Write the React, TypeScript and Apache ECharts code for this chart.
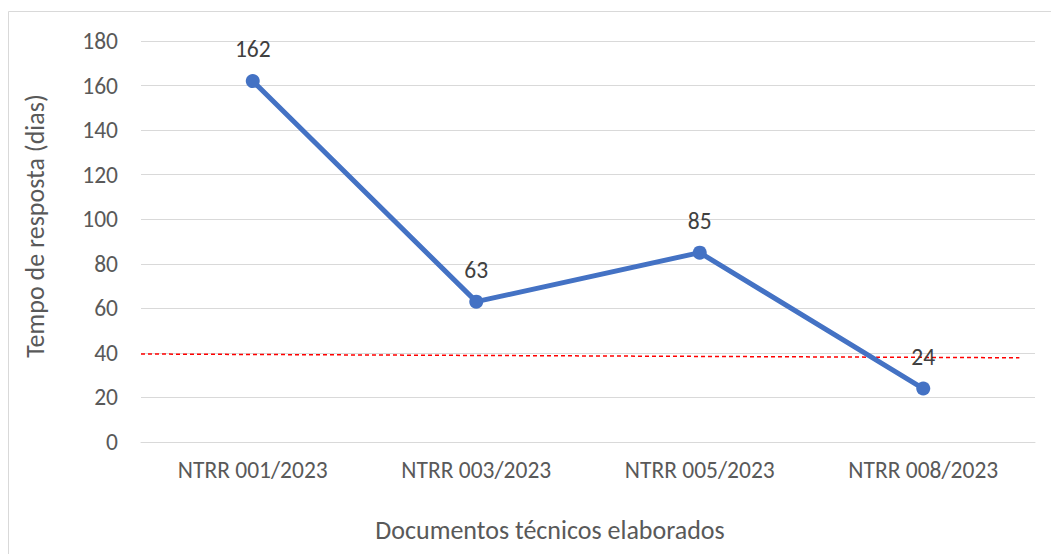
import React, { useEffect, useRef } from "react";
import * as echarts from "echarts";

const categories = ["NTRR 001/2023", "NTRR 003/2023", "NTRR 005/2023", "NTRR 008/2023"];
const values = [162, 63, 85, 24];
const refLine = [
  [0, 39.5],
  [3.93, 37.8],
];
const yTicks = { min: 0, max: 180, interval: 20 };
const xTitle = "Documentos técnicos elaborados";
const yTitle = "Tempo de resposta (dias)";

export default function App() {
  const ref = useRef<HTMLDivElement>(null);
  useEffect(() => {
    const chart = echarts.init(ref.current!, null, { renderer: "svg" });
    const font = "Carlito, 'Open Sans', 'Noto Sans', sans-serif";
    chart.setOption({
      animation: false,
      textStyle: { fontFamily: font },
      grid: { left: 141, right: 16, top: 41, bottom: 112 },
      graphic: [
        {
          type: "rect",
          shape: { x: 8.5, y: 11.5, width: 1100, height: 600 },
          style: { fill: "none", stroke: "#d9d9d9", lineWidth: 1 },
          silent: true,
          z: -1,
        },
        {
          type: "text",
          x: 550,
          y: 530,
          style: {
            text: xTitle,
            fill: "#595959",
            font: `26px ${font}`,
            align: "center",
            verticalAlign: "middle",
          },
          silent: true,
        },
        {
          type: "text",
          x: 35,
          y: 226,
          rotation: Math.PI / 2,
          style: {
            text: yTitle,
            fill: "#595959",
            font: `26px ${font}`,
            align: "center",
            verticalAlign: "middle",
          },
          silent: true,
        },
      ],
      xAxis: [
        {
          type: "category",
          data: categories,
          boundaryGap: true,
          axisLine: { show: true, lineStyle: { color: "#d9d9d9", width: 1 } },
          axisTick: { show: false },
          axisLabel: { color: "#595959", fontSize: 23.5, margin: 16, fontFamily: font },
        },
        {
          type: "value",
          min: 0,
          max: 4,
          show: false,
        },
      ],
      yAxis: {
        type: "value",
        min: yTicks.min,
        max: yTicks.max,
        interval: yTicks.interval,
        axisLine: { show: false },
        axisTick: { show: false },
        splitLine: { lineStyle: { color: "#d9d9d9", width: 1 } },
        axisLabel: { color: "#595959", fontSize: 23.5, margin: 23, fontFamily: font },
      },
      series: [
        {
          type: "line",
          xAxisIndex: 1,
          data: refLine,
          symbol: "none",
          lineStyle: { color: "#ff0000", width: 1.5, type: [4, 3] },
          silent: true,
          z: 1,
        },
        {
          type: "line",
          xAxisIndex: 0,
          data: values,
          symbol: "circle",
          symbolSize: 14,
          itemStyle: { color: "#4472c4" },
          lineStyle: { color: "#4472c4", width: 5 },
          label: {
            show: true,
            position: "top",
            distance: 13,
            color: "#404040",
            fontSize: 23.5,
            fontFamily: font,
          },
          z: 2,
        },
      ],
    });
    return () => chart.dispose();
  }, []);
  return (
    <div
      ref={ref}
      style={{ position: "absolute", left: 0, top: 0, width: 1051, height: 554, background: "#fff" }}
    />
  );
}
